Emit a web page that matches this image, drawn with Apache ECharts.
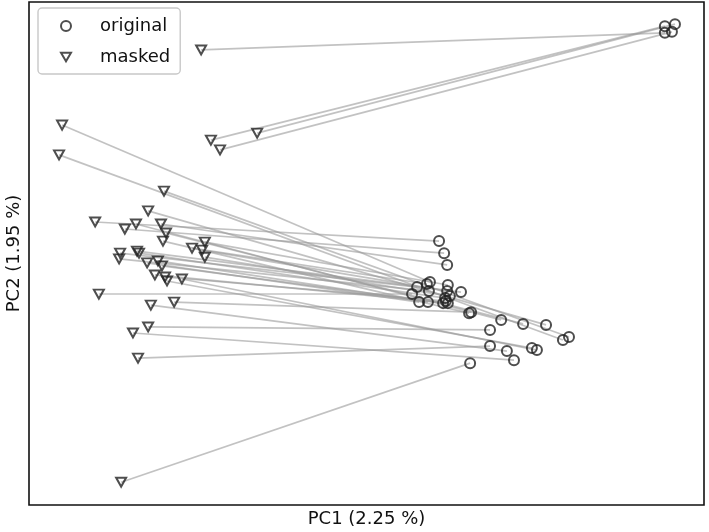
<!DOCTYPE html>
<html>
<head>
<meta charset="utf-8">
<title>PCA original vs masked</title>
<script src="https://cdn.jsdelivr.net/npm/echarts@6/dist/echarts.min.js"></script>
<style>
  html, body { margin: 0; padding: 0; background: #fff; }
  #chart { width: 709px; height: 532px; }
</style>
</head>
<body>
<div id="chart"></div>
<script>
// PC scores, one row per sample
const original = [
  [13.84, 6.08], [14.14, 6.34], [13.84, 6.28], [14.05, 6.11],
  [6.88, -1.35], [10.82, -3.08], [11.00, -2.99], [10.32, -2.63],
  [7.15, -0.13], [7.30, -0.49], [8.99, -2.48], [7.39, -0.84],
  [9.64, -2.60], [8.04, -2.28], [6.79, -1.41], [7.41, -1.44],
  [7.39, -1.62], [7.47, -1.77], [6.50, -1.50], [6.85, -1.62],
  [7.80, -1.65], [7.33, -1.83], [6.56, -1.95], [6.82, -1.95],
  [7.27, -1.98], [7.41, -1.98], [7.35, -1.92], [9.90, -3.32],
  [10.05, -3.38], [6.35, -1.71], [9.16, -3.41], [8.10, -2.25],
  [8.66, -2.78], [9.37, -3.68], [8.66, -3.26], [8.07, -3.77]
];
const masked = [
  [0.10, 5.57], [1.76, 3.09], [0.39, 2.88], [0.66, 2.59],
  [-4.02, 3.33], [-4.11, 2.44], [-1.00, 1.36], [-1.47, 0.77],
  [-3.04, 0.44], [-2.16, 0.23], [-1.83, 0.38], [-1.09, 0.38],
  [-0.94, 0.11], [-1.03, -0.13], [-0.17, -0.34], [0.21, -0.16],
  [0.13, -0.40], [0.21, -0.61], [-2.30, -0.49], [-2.33, -0.66],
  [-1.80, -0.43], [-1.74, -0.49], [-1.50, -0.78], [-1.18, -0.72],
  [-1.06, -0.87], [-1.27, -1.14], [-0.97, -1.20], [-0.91, -1.32],
  [-0.47, -1.26], [-2.93, -1.71], [-1.39, -2.04], [-0.70, -1.95],
  [-1.47, -2.69], [-1.92, -2.87], [-1.77, -3.62], [-2.27, -7.32]
];
const xName = 'PC1 (2.25 %)';
const yName = 'PC2 (1.95 %)';

const pairs = original.map((o, i) => ({ coords: [masked[i], o] }));
const triDown = 'path://M0,0 L10,0 L5,8.66 Z';

const chart = echarts.init(document.getElementById('chart'));
chart.setOption({
  animation: false,
  textStyle: { fontFamily: 'DejaVu Sans' },
  grid: {
    left: 29, right: 5, top: 2, bottom: 27,
    outerBoundsMode: 'none',
    show: true, borderColor: '#111', borderWidth: 1.6, backgroundColor: '#fff'
  },
  legend: {
    orient: 'vertical', left: 38, top: 8,
    data: [
      { name: 'original', icon: 'circle' },
      { name: 'masked', icon: triDown }
    ],
    itemWidth: 10, itemHeight: 10, itemGap: 13,
    padding: [9, 10, 8, 22],
    borderColor: '#c8c8c8', borderWidth: 1.4, borderRadius: 4,
    backgroundColor: '#fff',
    textStyle: { fontSize: 18, color: '#111', padding: [0, 0, 0, 24] }
  },
  xAxis: {
    type: 'value', min: -5, max: 15,
    name: xName, nameLocation: 'middle', nameGap: 5,
    nameTextStyle: { fontSize: 18, color: '#111' },
    axisLine: { show: false }, axisTick: { show: false },
    axisLabel: { show: false }, splitLine: { show: false }
  },
  yAxis: {
    type: 'value', min: -8, max: 7,
    name: yName, nameLocation: 'middle', nameGap: 6,
    nameTextStyle: { fontSize: 18, color: '#111' },
    axisLine: { show: false }, axisTick: { show: false },
    axisLabel: { show: false }, splitLine: { show: false }
  },
  series: [
    {
      name: 'links', type: 'lines', coordinateSystem: 'cartesian2d',
      data: pairs, silent: true,
      lineStyle: { color: '#999', width: 1.7, opacity: 0.6 }
    },
    {
      name: 'original', type: 'scatter', data: original,
      symbol: 'circle', symbolSize: 10,
      itemStyle: { color: 'rgba(255,255,255,0)', borderColor: '#222', borderWidth: 2 }
    },
    {
      name: 'masked', type: 'scatter', data: masked,
      symbol: triDown, symbolSize: [10, 9],
      itemStyle: { color: 'rgba(255,255,255,0)', borderColor: '#222', borderWidth: 2 }
    }
  ]
});
</script>
</body>
</html>
